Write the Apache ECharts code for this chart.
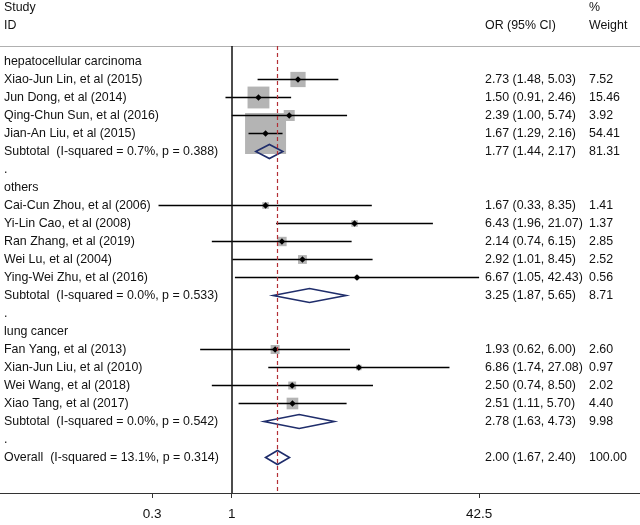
<!DOCTYPE html>
<html>
<head>
<meta charset="utf-8">
<script src="https://cdn.jsdelivr.net/npm/echarts@6/dist/echarts.min.js"></script>
<style>html,body{margin:0;padding:0;background:#fff}#chart{width:640px;height:525px}</style>
</head>
<body>
<div id="chart"></div>
<script>
const rowLabels = [
  'hepatocellular carcinoma',
  'Xiao-Jun Lin, et al (2015)',
  'Jun Dong, et al (2014)',
  'Qing-Chun Sun, et al (2016)',
  'Jian-An Liu, et al (2015)',
  'Subtotal  (I-squared = 0.7%, p = 0.388)',
  '.',
  'others',
  'Cai-Cun Zhou, et al (2006)',
  'Yi-Lin Cao, et al (2008)',
  'Ran Zhang, et al (2019)',
  'Wei Lu, et al (2004)',
  'Ying-Wei Zhu, et al (2016)',
  'Subtotal  (I-squared = 0.0%, p = 0.533)',
  '.',
  'lung cancer',
  'Fan Yang, et al (2013)',
  'Xian-Jun Liu, et al (2010)',
  'Wei Wang, et al (2018)',
  'Xiao Tang, et al (2017)',
  'Subtotal  (I-squared = 0.0%, p = 0.542)',
  '.',
  'Overall  (I-squared = 13.1%, p = 0.314)'
];
const rowKind = ['group','study','study','study','study','pooled','gap',
  'group','study','study','study','study','study','pooled','gap',
  'group','study','study','study','study','pooled','gap','pooled'];
const orValues = [null,2.73,1.50,2.39,1.67,1.77,null,null,1.67,6.43,2.14,2.92,6.67,3.25,null,null,1.93,6.86,2.50,2.51,2.78,null,2.00];
const ciLower  = [null,1.48,0.91,1.00,1.29,1.44,null,null,0.33,1.96,0.74,1.01,1.05,1.87,null,null,0.62,1.74,0.74,1.11,1.63,null,1.67];
const ciUpper  = [null,5.03,2.46,5.74,2.16,2.17,null,null,8.35,21.07,6.15,8.45,42.43,5.65,null,null,6.00,27.08,8.50,5.70,4.73,null,2.40];
const weights  = [null,7.52,15.46,3.92,54.41,81.31,null,null,1.41,1.37,2.85,2.52,0.56,8.71,null,null,2.60,0.97,2.02,4.40,9.98,null,100.00];
const overallOR = 2.00;
const nullValue = 1;
const xTickValues = [0.3, 1, 42.5];
const xTickLabels = ['0.3', '1', '42.5'];

const FONT = "'Liberation Sans', Arial, Helvetica, sans-serif";
const FS = '12.4px ';
const TXT = '#111';
const ln = Math.log;

const boxData = [], lineData = [], pooledData = [], textItems = [];
rowLabels.forEach((lab, i) => {
  textItems.push({col: 4, row: i, text: lab});
  const k = rowKind[i];
  if (k === 'study') {
    boxData.push([ln(orValues[i]), i, weights[i]]);
    lineData.push([ln(ciLower[i]), ln(ciUpper[i]), ln(orValues[i]), i]);
  } else if (k === 'pooled') {
    pooledData.push([ln(ciLower[i]), ln(ciUpper[i]), ln(orValues[i]), i]);
  }
  if (k === 'study' || k === 'pooled') {
    textItems.push({col: 485, row: i, text: orValues[i].toFixed(2) + ' (' + ciLower[i].toFixed(2) + ', ' + ciUpper[i].toFixed(2) + ')'});
    textItems.push({col: 589, row: i, text: weights[i].toFixed(2)});
  }
});

const refW = 54.41, refSide = 41;
const chart = echarts.init(document.getElementById('chart'), null, {renderer: 'canvas'});
chart.setOption({
  animation: false,
  backgroundColor: '#fff',
  grid: {left: 0, right: 0, top: 46, bottom: 32, containLabel: false},
  xAxis: [{
    type: 'value', min: -3.510, max: 6.185, position: 'bottom',
    splitLine: {show: false},
    axisLine: {show: true, onZero: false, lineStyle: {color: '#333', width: 1}},
    axisTick: {show: true, inside: false, length: 5, customValues: xTickValues.map(ln), lineStyle: {color: '#333'}},
    axisLabel: {show: true, customValues: xTickValues.map(ln), margin: 14, fontSize: 13.5, fontFamily: FONT, color: TXT,
      formatter: v => { const idx = xTickValues.findIndex(t => Math.abs(ln(t) - v) < 1e-6); return idx >= 0 ? xTickLabels[idx] : ''; }}
  }, {
    type: 'value', min: 0, max: 640, position: 'top',
    splitLine: {show: false},
    axisLine: {show: true, onZero: false, lineStyle: {color: '#b0b0b0', width: 1}},
    axisTick: {show: false}, axisLabel: {show: false}
  }],
  yAxis: [{
    type: 'value', inverse: true, min: -0.861, max: 23.972, show: false
  }],
  graphic: [
    {type: 'text', left: 4, top: 2, style: {text: 'Study', font: FS + FONT, fill: TXT}},
    {type: 'text', left: 4, top: 20, style: {text: 'ID', font: FS + FONT, fill: TXT}},
    {type: 'text', left: 485, top: 20, style: {text: 'OR (95% CI)', font: FS + FONT, fill: TXT}},
    {type: 'text', left: 589, top: 2, style: {text: '%', font: FS + FONT, fill: TXT}},
    {type: 'text', left: 589, top: 20, style: {text: 'Weight', font: FS + FONT, fill: TXT}}
  ],
  series: [
    {
      type: 'custom', name: 'boxes', z: 1, silent: true,
      encode: {x: 0, y: 1},
      data: boxData,
      renderItem: (params, api) => {
        const c = api.coord([api.value(0), api.value(1)]);
        const s = refSide * Math.sqrt(api.value(2) / refW);
        return {type: 'rect', shape: {x: c[0] - s / 2, y: c[1] - s / 2, width: s, height: s}, style: {fill: '#b4b4b4'}};
      }
    },
    {
      type: 'custom', name: 'refLines', z: 2, silent: true,
      data: [],
      renderItem: () => null,
      markLine: {
        silent: true, symbol: 'none', label: {show: false},
        data: [
          {xAxis: ln(nullValue), lineStyle: {color: '#111', width: 1.5, type: 'solid'}},
          {xAxis: ln(overallOR), lineStyle: {color: '#b32f35', width: 1.2, type: [4, 3]}}
        ]
      }
    },
    {
      type: 'custom', name: 'ci', z: 3, silent: true,
      encode: {x: [0, 1, 2], y: 3},
      data: lineData,
      renderItem: (params, api) => {
        const a = api.coord([api.value(0), api.value(3)]);
        const b = api.coord([api.value(1), api.value(3)]);
        const m = api.coord([api.value(2), api.value(3)]);
        const d = 3.2;
        return {type: 'group', children: [
          {type: 'line', shape: {x1: a[0], y1: a[1], x2: b[0], y2: b[1]}, style: {stroke: '#000', lineWidth: 1.6}},
          {type: 'polygon', shape: {points: [[m[0] - d, m[1]], [m[0], m[1] - d], [m[0] + d, m[1]], [m[0], m[1] + d]]}, style: {fill: '#000'}}
        ]};
      }
    },
    {
      type: 'custom', name: 'pooled', z: 4, silent: true,
      encode: {x: [0, 1, 2], y: 3},
      data: pooledData,
      renderItem: (params, api) => {
        const a = api.coord([api.value(0), api.value(3)]);
        const b = api.coord([api.value(1), api.value(3)]);
        const m = api.coord([api.value(2), api.value(3)]);
        const h = 7;
        return {type: 'polygon', shape: {points: [[a[0], a[1]], [m[0], m[1] - h], [b[0], b[1]], [m[0], m[1] + h]]},
          style: {fill: 'none', stroke: '#1f2d6b', lineWidth: 1.6}};
      }
    },
    {
      type: 'custom', name: 'text', z: 5, silent: true, xAxisIndex: 1, yAxisIndex: 0,
      encode: {x: 0, y: 1},
      clip: false,
      data: textItems.map(t => [t.col, t.row]),
      renderItem: (params, api) => {
        const c = api.coord([api.value(0), api.value(1)]);
        return {type: 'text', x: c[0], y: c[1], style: {text: textItems[params.dataIndex].text, font: FS + FONT, fill: TXT, textAlign: 'left', textVerticalAlign: 'middle'}};
      }
    }
  ]
});
</script>
</body>
</html>
